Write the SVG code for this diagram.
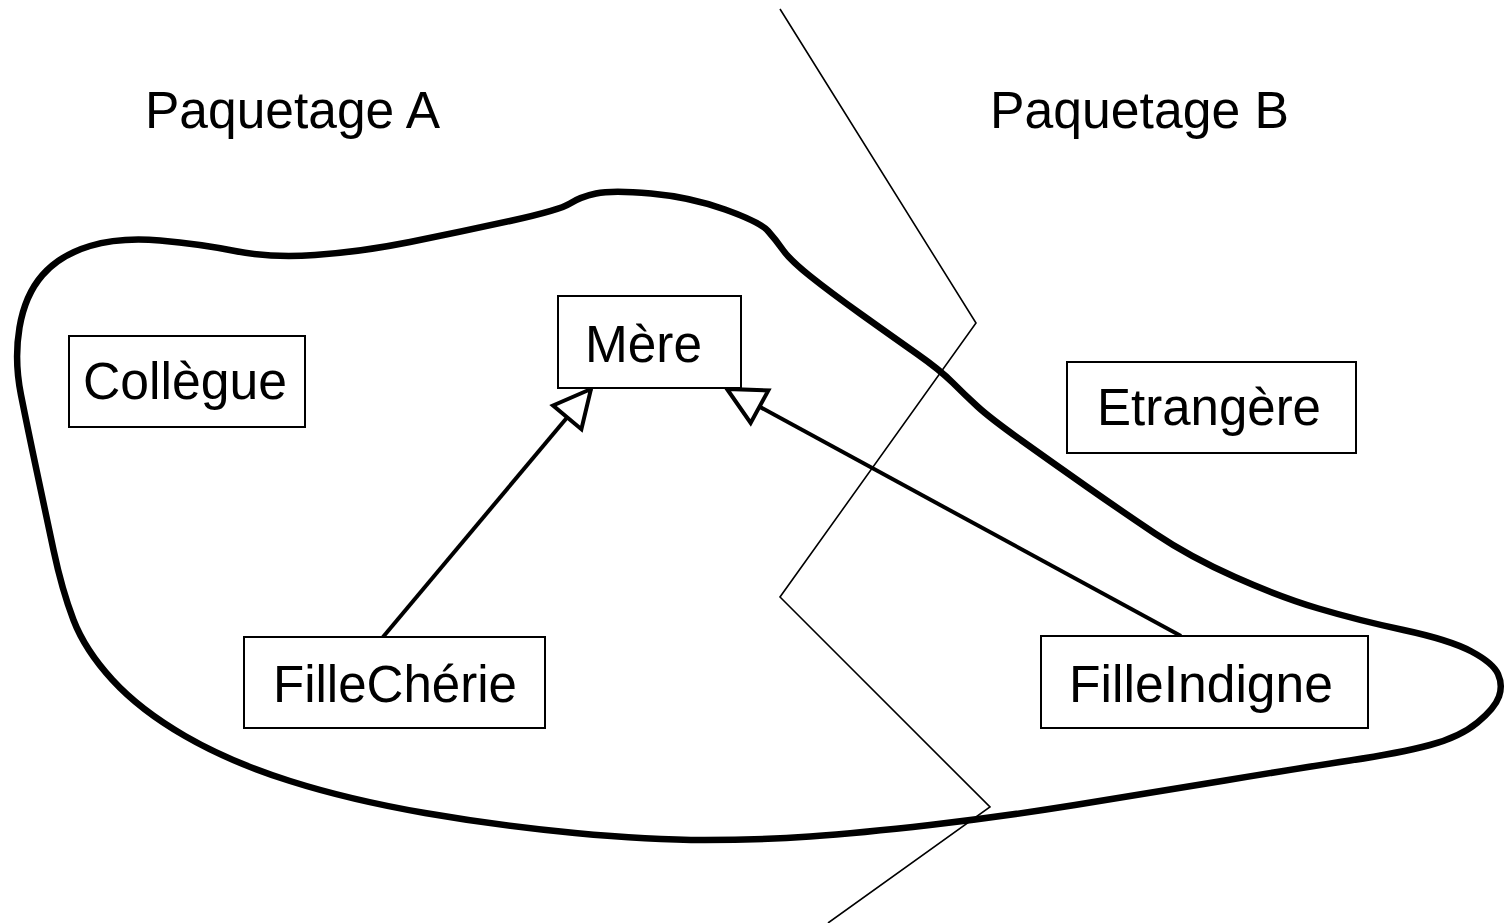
<svg xmlns="http://www.w3.org/2000/svg" width="1505" height="923" viewBox="0 0 1505 923">
<style>
text { font-family: "Liberation Sans", Arial, sans-serif; font-size: 51px; fill: #000; }
.box { fill: #fff; stroke: #000; stroke-width: 2; }
.gen { stroke: #000; stroke-width: 4; fill: none; marker-end: url(#tri); }
.blob { fill: none; stroke: #000; stroke-width: 6.5; stroke-linejoin: round; }
.divider { fill: none; stroke: #000; stroke-width: 1.6; }
</style>
<defs>
<marker id="tri" markerUnits="userSpaceOnUse" viewBox="-4 -24 46 48" refX="37" refY="0" markerWidth="46" markerHeight="48" orient="auto">
<path d="M37,0 L0,-18.5 L0,18.5 Z" fill="#fff" stroke="#000" stroke-width="4" stroke-linejoin="miter"/>
</marker>
</defs>
<rect width="1505" height="923" fill="#fff"/>
<g id="packages">
<path class="blob" d="M 19.5,327.5 Q 25,295 42.5,275 Q 60,255 90,246 Q 120,237 160,240.5 Q 200,244 235,251 Q 270,258 315,255 Q 360,252 410,242 Q 460,232 510,221 Q 560,210 570,203.5 Q 580,197 596,193.5 Q 612,190 651,193.5 Q 690,197 725,209.5 Q 760,222 768,231 Q 776,240 783,250 Q 790,260 810,276 Q 830,292 861.5,314.5 Q 893,337 916.5,353.5 Q 940,370 952.5,382.5 Q 965,395 977.5,406.5 Q 990,418 1021.5,440.5 Q 1053,463 1086.5,486.5 Q 1120,510 1155,533.5 Q 1190,557 1235,577 Q 1280,597 1318.5,608.5 Q 1357,620 1403.5,630 Q 1450,640 1471.5,651.5 Q 1493,663 1498,674 Q 1503,685 1499,696.5 Q 1495,708 1477.5,722.5 Q 1460,737 1430,745 Q 1400,753 1350,760.5 Q 1300,768 1225,780.5 Q 1150,793 1075,805 Q 1000,817 930,825 Q 860,833 810,836.5 Q 760,840 705,840 Q 650,840 575,833 Q 500,826 425,813 Q 350,800 290,781 Q 230,762 185,736 Q 140,710 112.5,680 Q 85,650 73.5,620 Q 62,590 53.5,550 Q 45,510 36.5,470 Q 28,430 21,395 Q 14,360 19.5,327.5 Z"/>
<polyline class="divider" points="780,9 976,323 780,597 990,807 828,923"/>
<text id="label-a" x="145" y="128" textLength="295" lengthAdjust="spacingAndGlyphs">Paquetage A</text>
<text id="label-b" x="990" y="128" textLength="299" lengthAdjust="spacingAndGlyphs">Paquetage B</text>
</g>
<g id="connectors">
<line class="gen" x1="383" y1="637" x2="591" y2="389"/>
<line class="gen" x1="1181" y1="636" x2="727" y2="389"/>
</g>
<g id="node-mere">
<rect class="box" x="558" y="296" width="183" height="92"/>
<text x="585" y="362" textLength="117" lengthAdjust="spacingAndGlyphs">Mère</text>
</g>
<g id="node-collegue">
<rect class="box" x="69" y="336" width="236" height="91"/>
<text x="83" y="399" textLength="204" lengthAdjust="spacingAndGlyphs">Collègue</text>
</g>
<g id="node-etrangere">
<rect class="box" x="1067" y="362" width="289" height="91"/>
<text x="1097" y="425" textLength="224" lengthAdjust="spacingAndGlyphs">Etrangère</text>
</g>
<g id="node-fillecherie">
<rect class="box" x="244" y="637" width="301" height="91"/>
<text x="273" y="702" textLength="244" lengthAdjust="spacingAndGlyphs">FilleChérie</text>
</g>
<g id="node-filleindigne">
<rect class="box" x="1041" y="636" width="327" height="92"/>
<text x="1069" y="702" textLength="264" lengthAdjust="spacingAndGlyphs">FilleIndigne</text>
</g>
</svg>
